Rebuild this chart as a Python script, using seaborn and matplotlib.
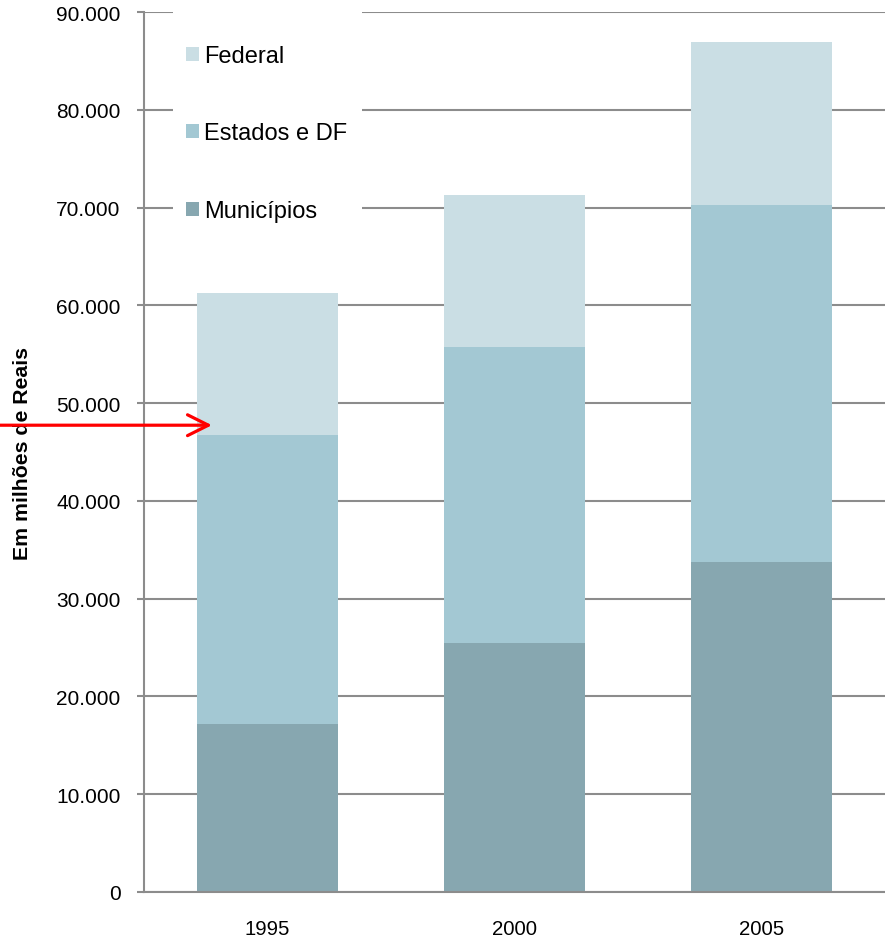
import matplotlib
matplotlib.use("Agg")
import matplotlib.pyplot as plt
import matplotlib.ticker as mticker
from matplotlib.patches import Patch, Rectangle
import seaborn as sns
import pandas as pd
import numpy as np

years = ["1995", "2000", "2005"]
municipios = [17150, 25450, 33750]
estados = [29550, 30250, 36500]
federal = [14600, 15600, 16650]
series_names = ["Federal", "Estados e DF", "Municípios"]
colors = {"Federal": "#CADEE4", "Estados e DF": "#A3C8D3", "Municípios": "#87A7B0"}
y_ticks = list(range(0, 90001, 10000))
arrow_value = 47740

sns.set_style("white")
plt.rcParams['font.family'] = ['Liberation Sans', 'DejaVu Sans']
plt.rcParams['text.color'] = 'black'
plt.rcParams['axes.labelcolor'] = 'black'
plt.rcParams['xtick.color'] = 'black'
plt.rcParams['ytick.color'] = 'black'

fig = plt.figure(figsize=(8.85, 9.45), dpi=100)
ax_h = 880
ax = fig.add_axes([144/885, 52/945, 741/885, ax_h/945])

cum_muni = np.array(municipios)
cum_est = cum_muni + np.array(estados)
cum_fed = cum_est + np.array(federal)

df = pd.DataFrame({"Ano": years, "Federal": cum_fed, "Estados e DF": cum_est,
                   "Municípios": cum_muni})

for name in series_names:
    sns.barplot(data=df, x="Ano", y=name, color=colors[name], saturation=1,
                width=0.571, errorbar=None, ax=ax, zorder=2, linewidth=0,
                edgecolor="none")

ax.set_xlim(-0.5, 2.5)
ax.set_ylim(0, 90000)
ax.set_yticks(y_ticks)
ax.yaxis.set_major_formatter(mticker.FuncFormatter(lambda v, p: f"{int(v):,}".replace(",", ".")))
ax.set_axisbelow(True)
ax.yaxis.grid(True, color="#8c8c8c", lw=1.5)
ax.xaxis.grid(False)
for s in ["top", "right"]:
    ax.spines[s].set_visible(False)
for s in ["left", "bottom"]:
    ax.spines[s].set_color("#8c8c8c")
    ax.spines[s].set_linewidth(1.5)

ax.tick_params(axis="y", which="major", length=5, width=1.5, color="#8c8c8c",
               labelcolor="black", labelsize=15, pad=12, left=True)
ax.tick_params(axis="x", length=0, labelsize=14.7, pad=19.5, labelcolor="black")
ax.set_xlabel("")
ax.set_ylabel("Em milhões de Reais", fontsize=15.3, fontweight="bold", color="black")
ax.yaxis.set_label_coords(-0.151, 0.5)

# white legend background box (hides gridlines behind the legend)
def ax_frac_x(px):
    return (px - 144) / 741

def ax_frac_y(py):
    return 1 - (py - 13) / ax_h

bg = Rectangle((ax_frac_x(173), ax_frac_y(240)), ax_frac_x(362) - ax_frac_x(173),
               ax_frac_y(0) - ax_frac_y(240), transform=ax.transAxes,
               facecolor="white", edgecolor="none", zorder=1, clip_on=False)
ax.add_patch(bg)

handles = [Patch(facecolor=colors[n], edgecolor="none", label=n) for n in series_names]
leg = ax.legend(handles=handles, loc="upper left",
                bbox_to_anchor=(ax_frac_x(186), ax_frac_y(46)),
                frameon=False, fontsize=17, handlelength=0.55, handleheight=0.55,
                handletextpad=0.2, labelspacing=2.35, borderpad=0, borderaxespad=0)
leg.set_zorder(5)

ax.annotate("", xy=(-0.225, arrow_value), xycoords="data",
            xytext=(0.0, arrow_value), textcoords=("figure fraction", "data"),
            arrowprops=dict(arrowstyle="->,head_length=1.0,head_width=0.5",
                            color="#FF0000", lw=2.3, mutation_scale=15,
                            shrinkA=0, shrinkB=0),
            annotation_clip=False, zorder=10)

fig.savefig("out.png", dpi=100)
